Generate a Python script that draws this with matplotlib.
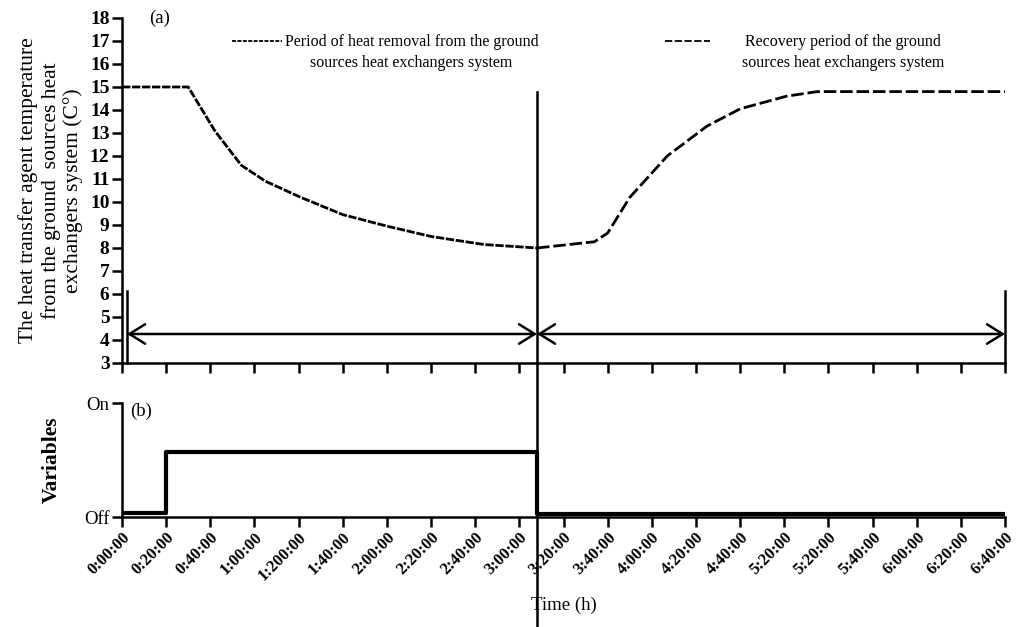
import numpy as np
import matplotlib
matplotlib.use("Agg")
import matplotlib.pyplot as plt
from matplotlib.transforms import blended_transform_factory

plt.rcParams['font.family'] = ['Liberation Serif', 'DejaVu Serif']

# time in minutes, temperature in C
t_removal = [0, 30, 42, 54, 65, 81, 100, 120, 140, 164, 188]
T_removal = [15, 15, 13.1, 11.6, 10.9, 10.2, 9.45, 8.95, 8.5, 8.15, 8.0]

t_recovery = [188, 214, 220, 230, 247, 265, 280, 301, 315, 400]
T_recovery = [8.0, 8.27, 8.65, 10.2, 12.0, 13.3, 14.05, 14.6, 14.8, 14.8]

# on/off state of the variables (0 = Off, 1 = On)
t_state = [0, 20, 188, 400]
state = [0.035, 0.57, 0.03, 0.03]

t_switch = 188
t_start_mark = 2.3
t_end = 400

tick_minutes = list(range(0, 401, 20))
tick_labels = ['0:00:00', '0:20:00', '0:40:00', '1:00:00', '1:200:00', '1:40:00',
               '2:00:00', '2:20:00', '2:40:00', '3:00:00', '3:20:00', '3:40:00',
               '4:00:00', '4:20:00', '4:40:00', '5:20:00', '5:20:00', '5:40:00',
               '6:00:00', '6:20:00', '6:40:00']

lw = 1.8
fig = plt.figure(figsize=(10.16, 6.27), dpi=100)
ax1 = fig.add_axes([0.1201, 0.4211, 0.8691, 0.5502])
ax2 = fig.add_axes([0.1201, 0.1754, 0.8691, 0.1818])

for ax in (ax1, ax2):
    ax.set_xlim(0, 400)
    for s in ('top', 'right'):
        ax.spines[s].set_visible(False)
    for s in ('left', 'bottom'):
        ax.spines[s].set_linewidth(lw)
    ax.set_xticks(tick_minutes)
    ax.tick_params(width=lw, length=7, direction='out', pad=2)

# (a) temperature
ax1.plot(t_removal, T_removal, color='black', lw=2, dashes=(3.0, 0.6))
ax1.plot(t_recovery, T_recovery, color='black', lw=2, dashes=(4.5, 1.4))
ax1.set_ylim(3, 18)
ax1.set_yticks(range(3, 19))
ax1.set_xticklabels([])
for lab in ax1.get_yticklabels():
    lab.set_fontsize(14)
    lab.set_fontweight('bold')
ax1.set_ylabel('The heat transfer agent temperature\nfrom the ground  sources heat\nexchangers system (C°)',
               fontsize=15.5, labelpad=5, linespacing=1.17)
ax1.text(12.5, 18, '(a)', fontsize=13.5, ha='left', va='center')

# period markers
ax1.plot([t_start_mark, t_start_mark], [3, 6.15], color='black', lw=lw, clip_on=False)
ax1.plot([t_end, t_end], [3, 6.15], color='black', lw=lw, clip_on=False)
arrow = dict(arrowstyle='<->,head_length=0.45,head_width=0.28', lw=lw, color='black',
             shrinkA=0, shrinkB=0, mutation_scale=25)
ax1.annotate('', xy=(t_start_mark, 4.26), xytext=(t_switch, 4.26), arrowprops=arrow)
ax1.annotate('', xy=(t_switch, 4.26), xytext=(t_end, 4.26), arrowprops=arrow)
ax1.plot([t_switch, t_switch], [3, 14.8], color='black', lw=lw, clip_on=False)

# legend entries
ax1.plot([0.124, 0.181], [0.933, 0.933], transform=ax1.transAxes,
         color='black', lw=1.3, dashes=(2.2, 0.8), clip_on=False)
ax1.text(0.328, 0.90, 'Period of heat removal from the ground\nsources heat exchangers system',
         transform=ax1.transAxes, ha='center', va='center', fontsize=11.5,
         multialignment='center', linespacing=1.45)
ax1.plot([0.615, 0.666], [0.933, 0.933], transform=ax1.transAxes,
         color='black', lw=1.3, dashes=(4.0, 1.4), clip_on=False)
ax1.text(0.8165, 0.90, 'Recovery period of the ground\nsources heat exchangers system',
         transform=ax1.transAxes, ha='center', va='center', fontsize=11.5,
         multialignment='center', linespacing=1.45)

# (b) variables
ax2.plot(t_state, state, color='black', lw=3, drawstyle='steps-post')
ax2.set_ylim(0, 1)
ax2.set_yticks([0, 1])
ax2.set_yticklabels(['Off', 'On'], fontsize=13.5)
ax2.set_ylabel('Variables', fontsize=15.5, fontweight='bold', labelpad=16)
ax2.text(3.6, 1.0, '(b)', fontsize=13.5, ha='left', va='top')
ax2.set_xticklabels(tick_labels, rotation=45, ha='right', va='top',
                    rotation_mode='anchor', fontsize=12, fontweight='bold')
ax2.set_xlabel('Time (h)', fontsize=13.5, labelpad=9)

trans = blended_transform_factory(ax2.transData, fig.transFigure)
ax2.plot([t_switch, t_switch], [0, 0.4211], transform=trans, color='black',
         lw=lw, clip_on=False)

fig.savefig('out.png', dpi=100)
